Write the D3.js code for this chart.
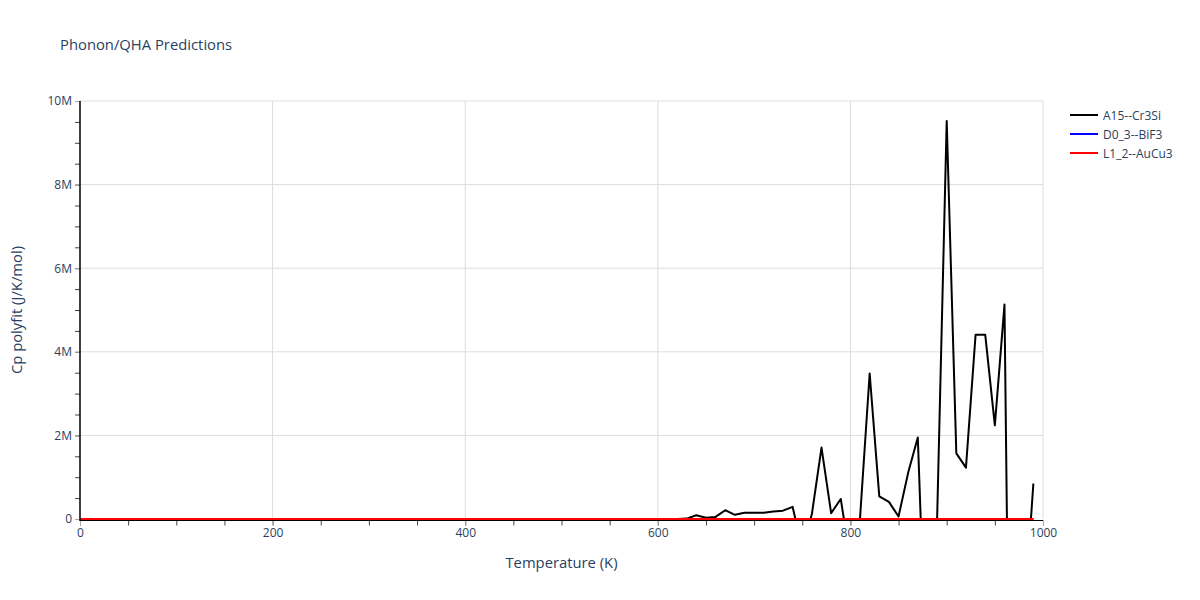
<!DOCTYPE html>
<html>
<head>
<meta charset="utf-8">
<script src="https://cdn.jsdelivr.net/npm/d3@7"></script>
<style>
  body { margin: 0; background: #fff; }
  svg { font-family: "Open Sans", verdana, arial, sans-serif; }
</style>
</head>
<body>
<div id="chart"></div>
<script>
const temperatures = [
  0,10,20,30,40,50,60,70,80,90,
  100,110,120,130,140,150,160,170,180,190,
  200,210,220,230,240,250,260,270,280,290,
  300,310,320,330,340,350,360,370,380,390,
  400,410,420,430,440,450,460,470,480,490,
  500,510,520,530,540,550,560,570,580,590,
  600,610,620,630,640,650,660,670,680,690,
  700,710,720,730,740,750,760,770,780,790,
  800,810,820,830,840,850,860,870,880,890,
  900,910,920,930,940,950,960,970,980,990
];
// values in J/K/mol
const cpA15 = [
  0,0,0,0,0,0,0,0,0,0,
  0,0,0,0,0,0,0,0,0,0,
  0,0,0,0,0,0,0,0,0,0,
  0,0,0,0,0,0,0,0,0,0,
  0,0,0,0,0,0,0,0,0,0,
  0,0,0,0,0,0,0,0,0,0,
  0,0,0,1e4,9e4,3e4,5e4,2.1e5,1.0e5,1.5e5,
  1.5e5,1.5e5,1.8e5,2.0e5,2.9e5,-7e5,1.2e5,1.71e6,1.4e5,4.8e5,
  -1.0e6,2e4,3.48e6,5.4e5,4.1e5,6e4,1.11e6,1.95e6,-4.5e6,-5e4,
  9.52e6,1.57e6,1.23e6,4.41e6,4.41e6,2.24e6,5.13e6,-1.5e7,-2.5e6,8.5e5
];
const cpD03 = [
  0,0,0,0,0,0,0,0,0,0, 0,0,0,0,0,0,0,0,0,0,
  0,0,0,0,0,0,0,0,0,0, 0,0,0,0,0,0,0,0,0,0,
  0,0,0,0,0,0,0,0,0,0, 0,0,0,0,0,0,0,0,0,0,
  0,0,0,0,0,0,0,0,0,0, 0,0,0,0,0,0,0,0,0,0,
  0,0,0,0,0,0,0,0,0,0, 0,0,0,0,0,0,0,0,0,0
];
const cpL12 = [
  0,0,0,0,0,0,0,0,0,0, 0,0,0,0,0,0,0,0,0,0,
  0,0,0,0,0,0,0,0,0,0, 0,0,0,0,0,0,0,0,0,0,
  0,0,0,0,0,0,0,0,0,0, 0,0,0,0,0,0,0,0,0,0,
  0,0,0,0,0,0,0,0,0,0, 0,0,0,0,0,0,0,0,0,0,
  0,0,0,0,0,0,0,0,0,0, 0,0,0,0,0,0,0,0,0,0
];
const seriesNames = ["A15--Cr3Si", "D0_3--BiF3", "L1_2--AuCu3"];
const seriesColors = ["#000000", "#0000ff", "#ff0000"];
const xMajorTicks = [0, 200, 400, 600, 800, 1000];
const yMajorTicks = [0, 2e6, 4e6, 6e6, 8e6, 1e7];
const yTickLabels = ["0", "2M", "4M", "6M", "8M", "10M"];

const W = 1200, H = 600;
const L = 80, R = 1043, T = 101, B = 519;
const textColor = "#2a3f5f";

const svg = d3.select("#chart").append("svg").attr("width", W).attr("height", H);

const x = d3.scaleLinear().domain([0, 1000]).range([L, R]);
const y = d3.scaleLinear().domain([0, 1e7]).range([B, T]);

// grid
svg.append("g").selectAll("line").data(xMajorTicks.filter(d => d > 0)).join("line")
  .attr("x1", d => x(d)).attr("x2", d => x(d)).attr("y1", T).attr("y2", B)
  .attr("stroke", "#dddddd").attr("stroke-width", 1);
svg.append("g").selectAll("line").data(yMajorTicks.filter(d => d > 0)).join("line")
  .attr("x1", L).attr("x2", R).attr("y1", d => y(d)).attr("y2", d => y(d))
  .attr("stroke", "#dddddd").attr("stroke-width", 1);

// clip
svg.append("clipPath").attr("id", "clip").append("rect")
  .attr("x", L).attr("y", T - 1).attr("width", R - L).attr("height", B - T + 2);

const line = d3.line().x(d => x(d[0])).y(d => y(d[1]));
const allSeries = [cpA15, cpD03, cpL12];
const plotG = svg.append("g").attr("clip-path", "url(#clip)");
allSeries.forEach((vals, i) => {
  plotG.append("path")
    .datum(temperatures.map((t, j) => [t, vals[j]]))
    .attr("d", line)
    .attr("fill", "none")
    .attr("stroke", seriesColors[i])
    .attr("stroke-width", 2)
    .attr("stroke-linejoin", "round");
});

// x axis
const xAxisG = svg.append("g").attr("transform", `translate(0,${B + 1.5})`);
xAxisG.call(d3.axisBottom(x).tickValues(d3.range(0, 1001, 50)).tickSize(5).tickFormat(""))
  .call(g => g.select(".domain").remove())
  .call(g => g.selectAll(".tick line").attr("stroke", "#444"));
const xLabG = svg.append("g").attr("transform", `translate(0,${B + 1.5})`);
xLabG.call(d3.axisBottom(x).tickValues(xMajorTicks).tickSize(5).tickPadding(3).tickFormat(d3.format("d")))
  .call(g => g.select(".domain").remove())
  .call(g => g.selectAll(".tick line").attr("stroke", "#aaa"))
  .call(g => g.selectAll(".tick text").attr("fill", textColor).attr("font-size", 12)
    .attr("font-family", '"Open Sans", verdana, arial, sans-serif'));
svg.append("line").attr("x1", L).attr("x2", R).attr("y1", B + 1.5).attr("y2", B + 1.5)
  .attr("stroke", "#000").attr("stroke-width", 1);

// y axis
const yAxisG = svg.append("g").attr("transform", `translate(${L},0)`);
yAxisG.call(d3.axisLeft(y).tickValues(d3.range(0, 1e7 + 1, 5e5)).tickSize(5).tickFormat(""))
  .call(g => g.select(".domain").remove())
  .call(g => g.selectAll(".tick line").attr("stroke", "#444"));
const yLabG = svg.append("g").attr("transform", `translate(${L},0)`);
yLabG.call(d3.axisLeft(y).tickValues(yMajorTicks).tickSize(5).tickPadding(3)
    .tickFormat((d, i) => yTickLabels[i]))
  .call(g => g.select(".domain").remove())
  .call(g => g.selectAll(".tick line").attr("stroke", "#aaa"))
  .call(g => g.selectAll(".tick text").attr("fill", textColor).attr("font-size", 12)
    .attr("font-family", '"Open Sans", verdana, arial, sans-serif'));
svg.append("line").attr("x1", L).attr("x2", L).attr("y1", T).attr("y2", B + 2)
  .attr("stroke", "#000").attr("stroke-width", 1.5);

// title
svg.append("text").attr("x", 60).attr("y", 50).text("Phonon/QHA Predictions")
  .attr("fill", textColor).attr("font-size", 14.8);

// axis titles
svg.append("text").attr("x", (L + R) / 2).attr("y", 568).attr("text-anchor", "middle")
  .text("Temperature (K)").attr("fill", textColor).attr("font-size", 14.8);
svg.append("text").attr("transform", `translate(22,${(T + B) / 2}) rotate(-90)`)
  .attr("text-anchor", "middle").text("Cp polyfit (J/K/mol)")
  .attr("fill", textColor).attr("font-size", 14.8);

// legend
const leg = svg.append("g");
seriesNames.forEach((name, i) => {
  const yy = 115 + i * 19;
  leg.append("line").attr("x1", 1070).attr("x2", 1098).attr("y1", yy).attr("y2", yy)
    .attr("stroke", seriesColors[i]).attr("stroke-width", 2);
  leg.append("text").attr("x", 1103).attr("y", yy + 4.5).text(name)
    .attr("fill", textColor).attr("font-size", 12);
});
</script>
</body>
</html>
